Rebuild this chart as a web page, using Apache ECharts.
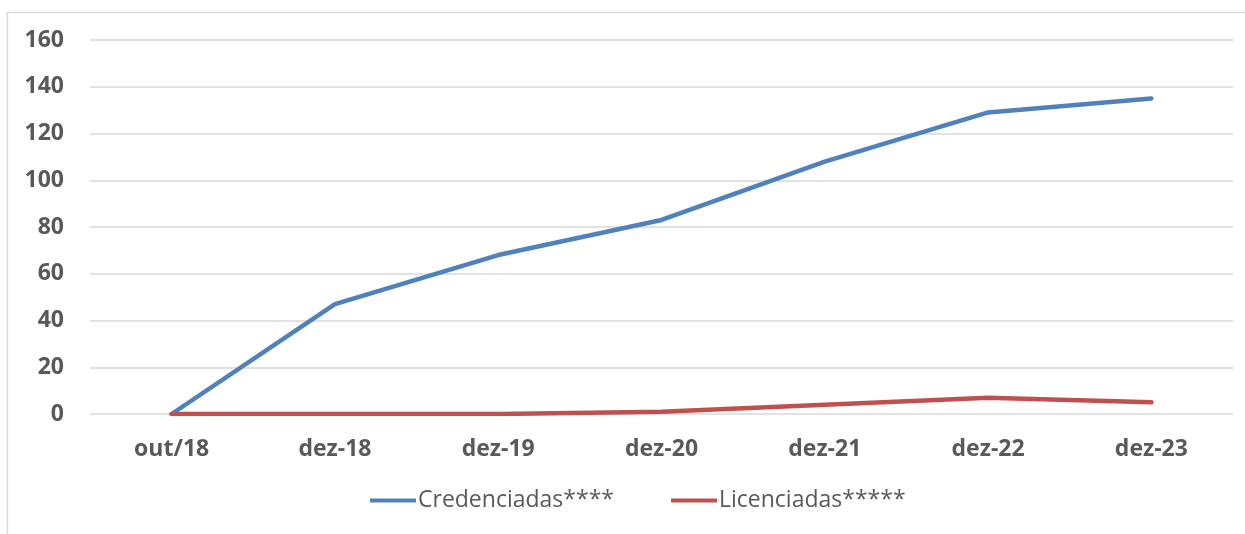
<!DOCTYPE html>
<html>
<head>
<meta charset="utf-8">
<script src="https://cdn.jsdelivr.net/npm/echarts@6/dist/echarts.min.js"></script>
<style>
  html, body { margin: 0; padding: 0; background: #fff; }
  #main { width: 1245px; height: 534px; }
</style>
</head>
<body>
<div id="main"></div>
<script>
// dados
const categorias = ['out/18', 'dez-18', 'dez-19', 'dez-20', 'dez-21', 'dez-22', 'dez-23']
const credenciadas = [0, 47, 68, 83, 108, 129, 135]
const licenciadas = [0, 0, 0, 1, 4, 7, 5]
const yTicks = [0, 20, 40, 60, 80, 100, 120, 140, 160]

const fonte = "'Open Sans', sans-serif"
const chart = echarts.init(document.getElementById('main'), null, { renderer: 'canvas' })

const option = {
  animation: false,
  backgroundColor: '#fff',
  graphic: [{
    type: 'rect',
    shape: { x: 7.5, y: 12.5, width: 1260, height: 540 },
    style: { fill: 'none', stroke: '#d9d9d9', lineWidth: 1.5 },
    silent: true
  }],
  grid: {
    left: 90,
    right: 12,
    top: 40,
    bottom: 120
  },
  legend: {
    bottom: 17,
    left: 365,
    itemWidth: 46,
    itemHeight: 4,
    itemGap: 57,
    icon: 'rect',
    textStyle: {
      color: '#595959',
      fontSize: 23,
      fontFamily: fonte,
      padding: [0, 0, 0, -3]
    },
    data: ['Credenciadas****', 'Licenciadas*****']
  },
  xAxis: {
    type: 'category',
    data: categorias,
    boundaryGap: true,
    axisLine: { show: false },
    axisTick: { show: false },
    axisLabel: {
      color: '#595959',
      fontSize: 23,
      fontWeight: 'bold',
      fontFamily: fonte,
      margin: 24
    }
  },
  yAxis: {
    type: 'value',
    min: yTicks[0],
    max: yTicks[yTicks.length - 1],
    interval: 20,
    axisLine: { show: false },
    axisTick: { show: false },
    splitLine: { lineStyle: { color: '#d9d9d9', width: 1.5 } },
    axisLabel: {
      color: '#595959',
      fontSize: 23,
      fontWeight: 'bold',
      fontFamily: fonte,
      margin: 26
    }
  },
  series: [
    {
      name: 'Credenciadas****',
      type: 'line',
      data: credenciadas,
      symbol: 'none',
      lineStyle: { color: '#4F81BD', width: 4.5, cap: 'round' },
      itemStyle: { color: '#4F81BD' }
    },
    {
      name: 'Licenciadas*****',
      type: 'line',
      data: licenciadas,
      symbol: 'none',
      lineStyle: { color: '#C0504D', width: 4.5, cap: 'round' },
      itemStyle: { color: '#C0504D' }
    }
  ]
}
chart.setOption(option)
</script>
</body>
</html>
